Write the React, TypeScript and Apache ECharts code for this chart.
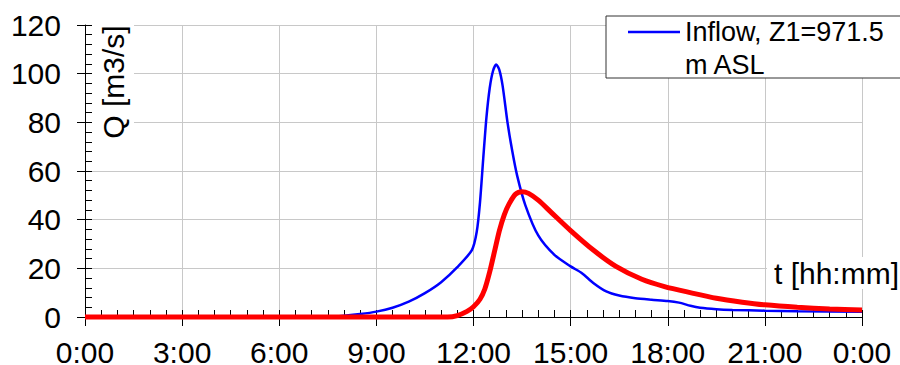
import React, { useEffect, useRef } from "react";
import * as echarts from "echarts";

// Time axis in hours (0..24)
const xTicks = [0, 3, 6, 9, 12, 15, 18, 21, 24];
const yTicks = [0, 20, 40, 60, 80, 100, 120];

// Inflow hydrograph (blue)
const inflowT = [0, 7.5, 8, 8.5, 9, 9.5, 10, 10.5, 11, 11.5, 11.95, 12.1, 12.2, 12.3, 12.4, 12.5, 12.6, 12.7, 12.8, 12.9, 13.05, 13.2, 13.35, 13.6, 14, 14.5, 15, 15.35, 15.7, 16.1, 16.5, 17, 17.5, 18, 18.35, 18.7, 19, 19.5, 20, 21, 22, 24];
const inflowQ = [0, 0, 0.5, 1.2, 2.2, 3.8, 6.3, 9.8, 14.3, 20.5, 27.5, 35, 47, 65, 82, 94, 101, 103.8, 101.5, 95, 80, 68, 58, 46, 33.5, 25.5, 20.8, 18, 14, 10.5, 8.8, 7.7, 7.1, 6.6, 5.9, 4.6, 3.8, 3.2, 2.9, 2.6, 2.4, 2.2];

// Outflow hydrograph (red)
const outflowT = [0, 11.2, 11.5, 11.8, 12, 12.2, 12.35, 12.5, 12.65, 12.8, 12.95, 13.1, 13.3, 13.5, 13.7, 14, 14.4, 15, 15.7, 16.4, 17.2, 17.9, 18.7, 19.5, 20.3, 21, 22, 23, 24];
const outflowQ = [0, 0, 0.6, 2.3, 4.2, 7.3, 11.5, 18.5, 27, 35.5, 42, 46.5, 50.5, 51.5, 50.8, 48, 43, 35.5, 27.5, 20.8, 15.5, 12.5, 10, 7.7, 6.1, 5, 4, 3.3, 2.9];

const inflowName = "Inflow, Z1=971.5";
const inflowName2 = "m ASL";
const outflowName = "Outflow";
const yTitle = "Q [m3/s]";
const xTitle = "t [hh:mm]";

const FONT = "'Liberation Sans', Arial, Helvetica, sans-serif";

export default function App() {
  const ref = useRef<HTMLDivElement>(null);
  useEffect(() => {
    if (!ref.current) return;
    const chart = echarts.init(ref.current, null, { renderer: "svg" });
    const inflow = inflowT.map((t, i) => [t, inflowQ[i]]);
    const outflow = outflowT.map((t, i) => [t, outflowQ[i]]);
    const xMin = xTicks[0];
    const xMax = xTicks[xTicks.length - 1];
    const yMin = yTicks[0];
    const yMax = yTicks[yTicks.length - 1];
    chart.setOption({
      animation: false,
      backgroundColor: "#ffffff",
      textStyle: { fontFamily: FONT },
      grid: { left: 85, right: 38, top: 25, bottom: 48, containLabel: false, outerBoundsMode: "none" },
      xAxis: [
        {
          type: "value",
          min: xMin,
          max: xMax,
          interval: 3,
          position: "bottom",
          axisLine: { show: true, lineStyle: { color: "#000", width: 1 } },
          axisTick: { show: true, inside: false, length: 9, lineStyle: { color: "#000", width: 1 } },
          axisLabel: {
            show: true,
            margin: 23,
            color: "#000",
            fontSize: 30,
            lineHeight: 24,
            fontFamily: FONT,
            formatter: (v: number) => `${v % 24}:00`,
          },
          splitLine: { show: true, lineStyle: { color: "#c8c8c8", width: 1 } },
        },
        {
          type: "value",
          min: xMin,
          max: xMax,
          interval: 0.5,
          position: "bottom",
          offset: 0,
          axisLine: { show: false },
          axisTick: { show: true, inside: true, length: 7, lineStyle: { color: "#000", width: 1 } },
          axisLabel: { show: false },
          splitLine: { show: false },
        },
      ],
      yAxis: [
        {
          type: "value",
          min: yMin,
          max: yMax,
          interval: 20,
          position: "left",
          axisLine: { show: true, lineStyle: { color: "#000", width: 1 } },
          axisTick: { show: true, inside: false, length: 8, lineStyle: { color: "#000", width: 1 } },
          axisLabel: { show: true, margin: 24, color: "#000", fontSize: 30, fontFamily: FONT },
          splitLine: { show: true, lineStyle: { color: "#c8c8c8", width: 1 } },
        },
        {
          type: "value",
          min: yMin,
          max: yMax,
          interval: 4,
          position: "left",
          offset: 0,
          axisLine: { show: false },
          axisTick: { show: true, inside: true, length: 7, lineStyle: { color: "#000", width: 1 } },
          axisLabel: { show: false },
          splitLine: { show: false },
        },
      ],
      legend: {
        show: true,
        data: [{ name: inflowName, icon: "rect" }],
        left: 606,
        top: 16,
        orient: "vertical",
        padding: [0, 24, 30, 22],
        itemWidth: 52,
        itemHeight: 2.5,
        borderColor: "#333",
        borderWidth: 1,
        backgroundColor: "#fff",
        selectedMode: false,
        itemStyle: { color: "#0000ff", borderWidth: 0 },
        textStyle: { color: "#000", fontSize: 27, fontFamily: FONT, lineHeight: 32 },
      },
      graphic: [
        {
          type: "text",
          z: 100,
          x: 685,
          y: 65,
          style: {
            text: inflowName2,
            fill: "#000",
            font: `27px ${FONT}`,
            align: "left",
            verticalAlign: "middle",
          },
        },
        {
          type: "text",
          z: 100,
          x: 113,
          y: 82,
          rotation: Math.PI / 2,
          style: {
            text: yTitle,
            fill: "#000",
            font: `30px ${FONT}`,
            align: "center",
            verticalAlign: "middle",
            backgroundColor: "#fff",
            padding: [6, 4, 6, 4],
          },
        },
        {
          type: "text",
          z: 100,
          x: 767,
          y: 273,
          style: {
            text: xTitle,
            fill: "#000",
            font: `30px ${FONT}`,
            lineHeight: 30,
            align: "left",
            verticalAlign: "middle",
            backgroundColor: "#fff",
            padding: [1, 2, 1, 7],
          },
        },
      ],
      series: [
        {
          name: inflowName,
          type: "line",
          xAxisIndex: 0,
          yAxisIndex: 0,
          data: inflow,
          symbol: "none",
          smooth: 0.25,
          clip: false,
          lineStyle: { color: "#0000ff", width: 2.5 },
          itemStyle: { color: "#0000ff" },
          z: 3,
        },
        {
          name: outflowName,
          type: "line",
          xAxisIndex: 0,
          yAxisIndex: 0,
          data: outflow,
          symbol: "none",
          smooth: 0.25,
          clip: false,
          lineStyle: { color: "#ff0000", width: 5 },
          itemStyle: { color: "#ff0000" },
          z: 4,
        },
      ],
    });
    return () => chart.dispose();
  }, []);
  return (
    <div
      ref={ref}
      style={{ position: "fixed", left: 0, top: 0, width: 900, height: 365, background: "#fff" }}
    />
  );
}
